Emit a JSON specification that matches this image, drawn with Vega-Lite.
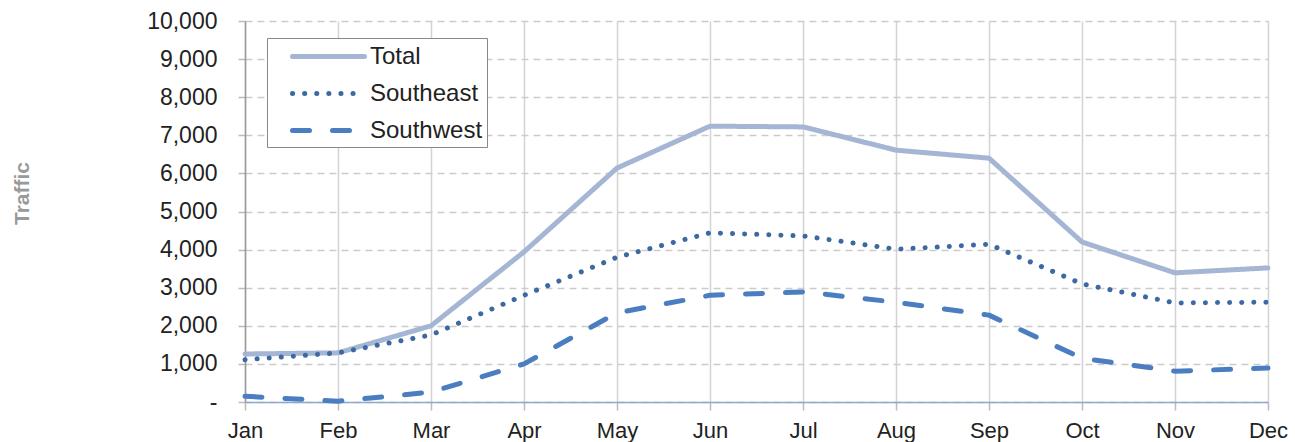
{
  "$schema": "https://vega.github.io/schema/vega-lite/v6.json",
  "width": 1023,
  "height": 381,
  "autosize": "none",
  "padding": {"left": 245, "top": 21, "right": 27, "bottom": 40},
  "background": "white",
  "data": {
    "values": [
      {"month": "Jan", "series": "Total", "value": 1260},
      {"month": "Feb", "series": "Total", "value": 1290},
      {"month": "Mar", "series": "Total", "value": 2000},
      {"month": "Apr", "series": "Total", "value": 3940},
      {"month": "May", "series": "Total", "value": 6140},
      {"month": "Jun", "series": "Total", "value": 7240},
      {"month": "Jul", "series": "Total", "value": 7220},
      {"month": "Aug", "series": "Total", "value": 6610},
      {"month": "Sep", "series": "Total", "value": 6400},
      {"month": "Oct", "series": "Total", "value": 4200},
      {"month": "Nov", "series": "Total", "value": 3390},
      {"month": "Dec", "series": "Total", "value": 3520},
      {"month": "Jan", "series": "Southeast", "value": 1110},
      {"month": "Feb", "series": "Southeast", "value": 1290},
      {"month": "Mar", "series": "Southeast", "value": 1760},
      {"month": "Apr", "series": "Southeast", "value": 2800},
      {"month": "May", "series": "Southeast", "value": 3800},
      {"month": "Jun", "series": "Southeast", "value": 4440},
      {"month": "Jul", "series": "Southeast", "value": 4360},
      {"month": "Aug", "series": "Southeast", "value": 4010},
      {"month": "Sep", "series": "Southeast", "value": 4140},
      {"month": "Oct", "series": "Southeast", "value": 3100},
      {"month": "Nov", "series": "Southeast", "value": 2600},
      {"month": "Dec", "series": "Southeast", "value": 2620},
      {"month": "Jan", "series": "Southwest", "value": 150},
      {"month": "Feb", "series": "Southwest", "value": 20},
      {"month": "Mar", "series": "Southwest", "value": 260},
      {"month": "Apr", "series": "Southwest", "value": 1000},
      {"month": "May", "series": "Southwest", "value": 2340},
      {"month": "Jun", "series": "Southwest", "value": 2800},
      {"month": "Jul", "series": "Southwest", "value": 2890},
      {"month": "Aug", "series": "Southwest", "value": 2620},
      {"month": "Sep", "series": "Southwest", "value": 2280},
      {"month": "Oct", "series": "Southwest", "value": 1150},
      {"month": "Nov", "series": "Southwest", "value": 810},
      {"month": "Dec", "series": "Southwest", "value": 890}
    ]
  },
  "config": {
    "view": {"stroke": null},
    "font": "Liberation Sans"
  },
  "mark": {"type": "line", "strokeWidth": 5, "strokeCap": "round", "strokeJoin": "round"},
  "encoding": {
    "x": {
      "field": "month",
      "type": "ordinal",
      "sort": ["Jan","Feb","Mar","Apr","May","Jun","Jul","Aug","Sep","Oct","Nov","Dec"],
      "scale": {"type": "point", "padding": 0},
      "axis": {
        "title": null,
        "labelAngle": 0,
        "labelFontSize": 22,
        "labelColor": "#222222",
        "labelPadding": 10,
        "tickSize": 8,
        "tickColor": "#BBBBBB",
        "tickWidth": 1.5,
        "domainColor": "#8EA8D0",
        "domainWidth": 1.5,
        "grid": true,
        "gridColor": "#D3D3D3",
        "gridWidth": 1.5
      }
    },
    "y": {
      "field": "value",
      "type": "quantitative",
      "scale": {"domain": [0, 10000], "nice": false},
      "axis": {
        "title": "Traffic",
        "titleFont": "Liberation Sans",
        "titleFontSize": 21,
        "titleFontWeight": "bold",
        "titleColor": "#999999",
        "titleX": -223,
        "titleY": 172,
        "titleAlign": "center",
        "titleBaseline": "middle",
        "titleAngle": -90,
        "values": [0,1000,2000,3000,4000,5000,6000,7000,8000,9000,10000],
        "labelExpr": "datum.value == 0 ? '-' : format(datum.value, ',')",
        "labelFontSize": 23,
        "labelColor": "#222222",
        "labelPadding": 21,
        "tickSize": 7,
        "tickColor": "#BBBBBB",
        "tickWidth": 1.5,
        "domainColor": "#999999",
        "domainWidth": 1.5,
        "grid": true,
        "gridColor": "#CCCCCC",
        "gridWidth": 1.5,
        "gridDash": [7, 5]
      }
    },
    "color": {
      "field": "series",
      "type": "nominal",
      "sort": ["Total", "Southeast", "Southwest"],
      "scale": {"domain": ["Total", "Southeast", "Southwest"], "range": ["#A5B5D4", "#3D69A3", "#4A7EC0"]},
      "legend": {
        "title": null,
        "orient": "none",
        "legendX": 22,
        "legendY": 17,
        "padding": 4,
        "strokeColor": "#888888",
        "fillColor": "white",
        "symbolType": "M-1,0H5",
        "symbolSize": 576,
        "symbolStrokeWidth": 5,
        "symbolOffset": 19,
        "labelOffset": 51,
        "labelFontSize": 24,
        "labelColor": "#222222",
        "rowPadding": 10,
        "encode": {
          "symbols": {"update": {"strokeCap": {"value": "round"}}}
        }
      }
    },
    "strokeDash": {
      "field": "series",
      "type": "nominal",
      "sort": ["Total", "Southeast", "Southwest"],
      "scale": {"domain": ["Total", "Southeast", "Southwest"], "range": [[1, 0], [0.1, 12], [17, 23]]},
      "legend": {
        "title": null,
        "orient": "none",
        "legendX": 22,
        "legendY": 17,
        "padding": 4,
        "strokeColor": "#888888",
        "fillColor": "white",
        "symbolType": "M-1,0H5",
        "symbolSize": 576,
        "symbolStrokeWidth": 5,
        "symbolOffset": 19,
        "labelOffset": 51,
        "labelFontSize": 24,
        "labelColor": "#222222",
        "rowPadding": 10,
        "encode": {
          "symbols": {"update": {"strokeCap": {"value": "round"}}}
        }
      }
    }
  }
}
